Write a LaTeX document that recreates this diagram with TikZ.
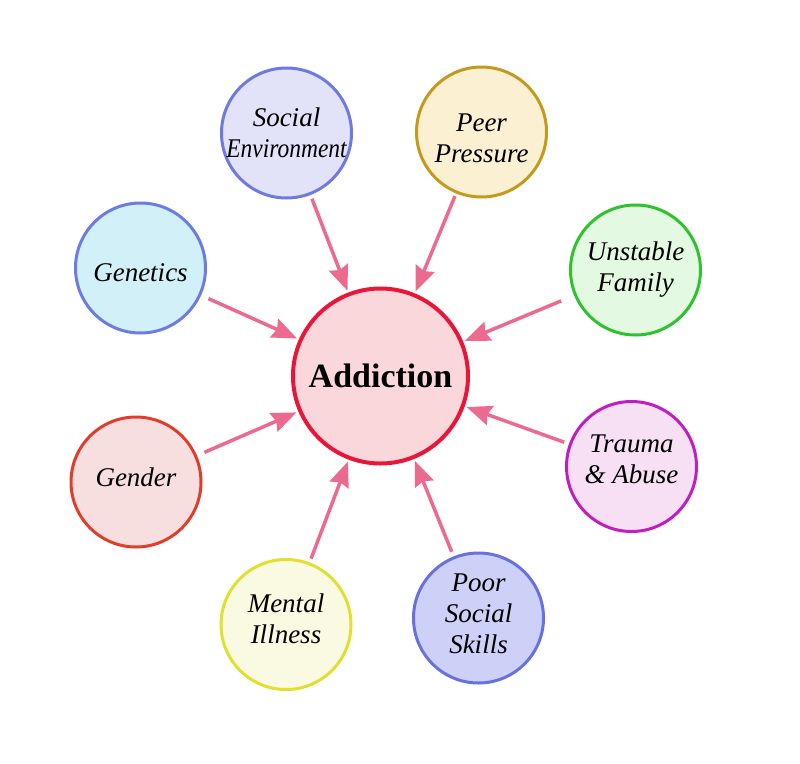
\documentclass[tikz,border=0pt]{standalone}
\usepackage{fontspec}
\setmainfont{Liberation Serif}
\usetikzlibrary{arrows.meta}
\definecolor{cfill}{HTML}{FAD7DA}\definecolor{cline}{HTML}{E8173A}
\definecolor{sefill}{HTML}{E2E3F9}\definecolor{seline}{HTML}{7079E0}
\definecolor{ppfill}{HTML}{FCF0D2}\definecolor{ppline}{HTML}{C49A1E}
\definecolor{uffill}{HTML}{E4F9E2}\definecolor{ufline}{HTML}{2EC22E}
\definecolor{gefill}{HTML}{D2F0F8}\definecolor{geline}{HTML}{6E7BE0}
\definecolor{gdfill}{HTML}{F8DFDF}\definecolor{gdline}{HTML}{E03E2C}
\definecolor{tafill}{HTML}{F7DFF4}\definecolor{taline}{HTML}{C01FC0}
\definecolor{mifill}{HTML}{FAF9E2}\definecolor{miline}{HTML}{E0E030}
\definecolor{psfill}{HTML}{CDD1F7}\definecolor{psline}{HTML}{6A70DE}
\definecolor{arrcol}{HTML}{EC6A8E}
\tikzset{
  factor/.style={circle, draw, line width=3pt, minimum size=130pt, inner sep=0pt},
  txt/.style={inner sep=0pt, align=center, font=\fontsize{27}{31}\selectfont\itshape},
  hub/.style={circle, draw=cline, fill=cfill, line width=4pt, minimum size=175pt,
    inner sep=0pt, font=\fontsize{34}{36}\selectfont\bfseries},
  arr/.style={draw=arrcol, line width=3.5pt, -{Stealth[length=25pt,width=20pt,inset=3pt]}}
}
\begin{document}
\begin{tikzpicture}[x=1pt,y=-1pt]
\useasboundingbox[fill=white] (0,0) rectangle (800,763);
\node[hub] (add) at (380.5,376) {Addiction};
\node[factor, draw=seline, fill=sefill, label={[txt]center:{Social\\\scalebox{0.87}[1]{Environment}}}] (se) at (286.5,133) {};
\node[factor, draw=ppline, fill=ppfill, label={[txt, yshift=-6pt]center:{Peer\\Pressure}}] (pp) at (481.5,132) {};
\node[factor, draw=ufline, fill=uffill, label={[txt]center:{Unstable\\Family}}] (uf) at (635.5,270) {};
\node[factor, draw=geline, fill=gefill, label={[txt, yshift=-5pt]center:{Genetics}}] (ge) at (140.5,268) {};
\node[factor, draw=gdline, fill=gdfill, label={[txt, yshift=5pt]center:{Gender}}] (gd) at (136,482) {};
\node[factor, draw=taline, fill=tafill, label={[txt, yshift=7pt]center:{Trauma\\\&~Abuse}}] (ta) at (631.5,466.5) {};
\node[factor, draw=miline, fill=mifill, label={[txt, yshift=6pt]center:{Mental\\Illness}}] (mi) at (286,624.5) {};
\node[factor, draw=psline, fill=psfill, label={[txt, yshift=4pt]center:{Poor\\Social\\Skills}}] (ps) at (478.5,618) {};
\draw[arr, shorten <=4pt, shorten >=2pt] (se) -- (add);
\draw[arr, shorten <=3pt, shorten >=2pt] (pp) -- (add);
\draw[arr, shorten <=14pt, shorten >=2pt] (uf) -- (add);
\draw[arr, shorten <=8pt, shorten >=2pt] (ge) -- (add);
\draw[arr, shorten <=8pt, shorten >=2pt] (gd) -- (add);
\draw[arr, shorten <=5pt, shorten >=2pt] (ta) -- (add);
\draw[arr, shorten <=4pt, shorten >=2pt] (mi) -- (add);
\draw[arr, shorten <=5pt, shorten >=2pt] (ps) -- (add);
\end{tikzpicture}
\end{document}
